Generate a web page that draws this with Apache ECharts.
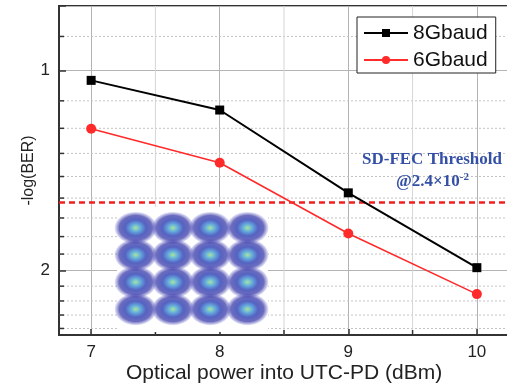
<!DOCTYPE html>
<html>
<head>
<meta charset="utf-8">
<script src="https://cdn.jsdelivr.net/npm/echarts@6/dist/echarts.min.js"></script>
<style>html,body{margin:0;padding:0;background:#fff}#c{width:507px;height:386px}</style>
</head>
<body>
<div id="c"></div>
<script>
// ---- data ----
const xValues = [7, 8, 9, 10];
const ber8G = [1.035, 1.147, 1.528, 1.98];
const ber6G = [1.224, 1.377, 1.759, 2.17];
const threshold = 1.58;
const xMajorTicks = [7, 8, 9, 10];
const xMinorTicks = [7.5, 8.5, 9.5];
const yMajorTicks = [1, 2];
const yMinorTicks = [0.889, 1.111, 1.222, 1.333, 1.444, 1.556, 1.667, 1.778, 1.889, 2.111, 2.222, 2.333, 2.444];
// 16-QAM constellation cluster centres (inset)
const qamI = [-3, -1, 1, 3, -3, -1, 1, 3, -3, -1, 1, 3, -3, -1, 1, 3];
const qamQ = [3, 3, 3, 3, 1, 1, 1, 1, -1, -1, -1, -1, -3, -3, -3, -3];

const X_MIN = 6.75, X_MAX = 10.25, Y_MIN = 0.8, Y_MAX = 2.5;
const sans = '"Liberation Sans", Arial, sans-serif';
const serif = '"Liberation Serif", "Times New Roman", serif';

const chart = echarts.init(document.getElementById('c'), null, {renderer: 'canvas'});

const option = {
  animation: false,
  backgroundColor: '#fff',
  grid: [
    {left: 59, right: -2, top: 6, bottom: 51, outerBoundsMode: 'none', containLabel: false,
     show: true, borderColor: '#333', borderWidth: 2, backgroundColor: 'transparent'},
    {left: 117, top: 207, width: 151, height: 125, outerBoundsMode: 'none', containLabel: false,
     show: true, borderWidth: 0, backgroundColor: '#fff', z: 3}
  ],
  legend: {
    left: 357, top: 17, orient: 'vertical',
    backgroundColor: '#fff', borderColor: '#222', borderWidth: 1,
    padding: [5, 8, 2, 6], itemGap: 5, itemWidth: 44, itemHeight: 10,
    textStyle: {fontFamily: sans, fontSize: 21, color: '#111', lineHeight: 22},
    data: ['8Gbaud', '6Gbaud']
  },
  xAxis: [
    {
      type: 'value', gridIndex: 0, min: X_MIN, max: X_MAX,
      name: 'Optical power into UTC-PD (dBm)', nameLocation: 'middle', nameGap: 28, nameMoveOverlap: false,
      nameTextStyle: {fontFamily: sans, fontSize: 21, color: '#222'},
      axisLine: {show: true, onZero: false, lineStyle: {color: '#333', width: 2}},
      axisTick: {show: true, inside: true, length: 6, lineStyle: {color: '#333', width: 1.5}, customValues: xMajorTicks},
      axisLabel: {fontFamily: sans, fontSize: 17, color: '#222', margin: 9, customValues: xMajorTicks},
      splitLine: {show: true, lineStyle: {color: '#b4b4b4', width: 1}}
    },
    {type: 'value', gridIndex: 1, min: -4, max: 4.1, show: false, splitLine: {show: false}}
  ],
  yAxis: [
    {
      type: 'log', logBase: 2, gridIndex: 0, min: Y_MIN, max: Y_MAX, inverse: true,
      name: '-log(BER)', nameLocation: 'middle', nameGap: 22, nameRotate: 90, nameMoveOverlap: false,
      nameTextStyle: {fontFamily: sans, fontSize: 16, color: '#222'},
      axisLine: {show: true, lineStyle: {color: '#333', width: 2}},
      axisTick: {show: true, inside: true, length: 7, lineStyle: {color: '#333', width: 1.5}},
      axisLabel: {
        fontFamily: sans, fontSize: 17, color: '#222', margin: 9,
        formatter: function (v) {
          for (const t of yMajorTicks) { if (Math.abs(v - t) < 1e-6) return String(t); }
          return '';
        }
      },
      splitLine: {show: true, lineStyle: {color: '#b4b4b4', width: 1}}
    },
    {type: 'value', gridIndex: 1, min: -4.68, max: 4.54, show: false, splitLine: {show: false}}
  ],
  graphic: [
    {type: 'text', left: 362, top: 151, z: 10,
     style: {text: 'SD-FEC Threshold', font: 'bold 17px ' + serif, fill: '#3450a6'}},
    {type: 'text', left: 396, top: 172, z: 10,
     style: {
       text: '{a|@2.4×10}{s|-2}',
       rich: {
         a: {font: 'bold 17px ' + serif, fill: '#3450a6'},
         s: {font: 'bold 11px ' + serif, fill: '#3450a6', verticalAlign: 'top', padding: [0, 0, 8, 0]}
       }
     }}
  ],
  series: [
    {
      type: 'custom', xAxisIndex: 0, yAxisIndex: 0, silent: true, z: 1,
      data: yMinorTicks.map(v => [X_MIN, v]),
      renderItem: function (params, api) {
        const p = api.coord([api.value(0), api.value(1)]);
        const cs = params.coordSys;
        return {type: 'group', children: [
          {type: 'line', shape: {x1: cs.x, y1: p[1], x2: cs.x + cs.width, y2: p[1]},
           style: {stroke: '#c4c4c4', lineWidth: 1, lineDash: [2, 2]}},
          {type: 'line', shape: {x1: cs.x, y1: p[1], x2: cs.x + 5, y2: p[1]},
           style: {stroke: '#333', lineWidth: 1.5}}
        ]};
      }
    },
    {
      type: 'custom', xAxisIndex: 0, yAxisIndex: 0, silent: true, z: 1,
      data: xMinorTicks.map(v => [v, 1]),
      renderItem: function (params, api) {
        const p = api.coord([api.value(0), api.value(1)]);
        const cs = params.coordSys;
        return {type: 'group', children: [
          {type: 'line', shape: {x1: p[0], y1: cs.y, x2: p[0], y2: cs.y + cs.height},
           style: {stroke: '#d6d6d6', lineWidth: 1}},
          {type: 'line', shape: {x1: p[0], y1: cs.y + cs.height, x2: p[0], y2: cs.y + cs.height - 5},
           style: {stroke: '#333', lineWidth: 1.5}}
        ]};
      }
    },
    {
      name: '8Gbaud', type: 'line', xAxisIndex: 0, yAxisIndex: 0, z: 5,
      data: xValues.map((x, i) => [x, ber8G[i]]),
      symbol: 'rect', symbolSize: 9,
      lineStyle: {color: '#000', width: 2}, itemStyle: {color: '#000'},
      markLine: {
        silent: true, symbol: 'none', label: {show: false}, z: 4,
        lineStyle: {color: '#ee1f1f', type: [6, 4], width: 2.5},
        data: [{yAxis: threshold}]
      }
    },
    {
      name: '6Gbaud', type: 'line', xAxisIndex: 0, yAxisIndex: 0, z: 5,
      data: xValues.map((x, i) => [x, ber6G[i]]),
      symbol: 'circle', symbolSize: 10,
      lineStyle: {color: '#ff2a2a', width: 1.6}, itemStyle: {color: '#ff2a2a'}
    },
    {
      type: 'scatter', xAxisIndex: 1, yAxisIndex: 1, z: 6, silent: true,
      data: qamI.map((v, i) => [v, qamQ[i]]),
      symbol: 'circle', symbolSize: [42, 32],
      itemStyle: {
        color: {
          type: 'radial', x: 0.5, y: 0.5, r: 0.5,
          colorStops: [
            {offset: 0, color: '#b8d060'},
            {offset: 0.1, color: '#60c4b8'},
            {offset: 0.28, color: '#3a86d2'},
            {offset: 0.5, color: '#2a3cb2'},
            {offset: 0.78, color: 'rgba(40,40,160,0.85)'},
            {offset: 1, color: 'rgba(70,70,190,0.15)'}
          ]
        }
      }
    }
  ]
};
chart.setOption(option);
</script>
</body>
</html>
